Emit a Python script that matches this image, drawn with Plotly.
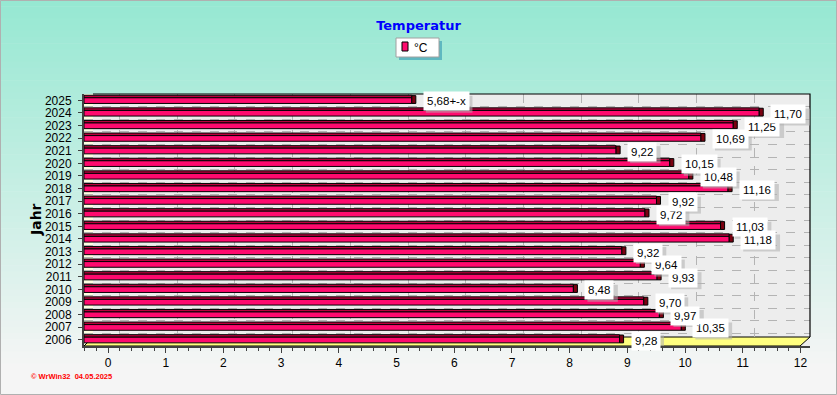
import plotly.graph_objects as go

# ---------------- data ----------------
years = [2006, 2007, 2008, 2009, 2010, 2011, 2012, 2013, 2014, 2015,
         2016, 2017, 2018, 2019, 2020, 2021, 2022, 2023, 2024, 2025]
temps = [9.28, 10.35, 9.97, 9.70, 8.48, 9.93, 9.64, 9.32, 11.18, 11.03,
         9.72, 9.92, 11.16, 10.48, 10.15, 9.22, 10.69, 11.25, 11.70, 5.68]
label_suffix = {2025: "+-x"}
x_ticks = list(range(0, 13))
title_text = "Temperatur"
series_name = "°C"
axis_title = "Jahr"
footer_text = "© WrWin32  04.05.2025"

# ---------------- geometry / style ----------------
W, H = 837, 395
ML, MR, MT, MB = 84, 27, 94, 49
PW, PH = W - ML - MR, H - MT - MB
X_MAX = 12.58                 # bar axis range
LABEL_SHIFT = 0.416           # 3D offset of front tick labels (units)
GRID_SHIFT = 0.616            # 3D offset of back-wall grid (units)
CAP_W = 0.07

PINK = "#FF0A6E"
TOP = "#B8003C"
CAP = "#7A0010"
LABEL_FONT = 11.5

def px_to_paper_x(px):
    return (px - ML) / PW

def px_to_paper_y(py):
    return (H - MB - py) / PH

def text_width(s, size=LABEL_FONT):
    widths = {",": 0.28, "+": 0.58, "-": 0.33, "x": 0.5}
    return sum(widths.get(ch, 0.556) for ch in s) * size

fig = go.Figure()

# top face of the 3D bars
fig.add_trace(go.Bar(
    y=years, x=temps, orientation="h", width=0.2, offset=0.2,
    marker=dict(color=TOP, line=dict(color="black", width=1)),
    showlegend=False, hoverinfo="skip"))
# front face
fig.add_trace(go.Bar(
    y=years, x=temps, orientation="h", width=0.45, offset=-0.25,
    name=series_name,
    marker=dict(color=PINK, line=dict(color="black", width=1)),
    showlegend=False))
# end caps
fig.add_trace(go.Bar(
    y=years, x=[CAP_W] * len(years), base=temps, orientation="h",
    width=0.62, offset=-0.25,
    marker=dict(color=CAP, line=dict(color="black", width=1)),
    showlegend=False, hoverinfo="skip"))
# invisible trace to activate the front (label) axis
fig.add_trace(go.Scatter(x=[x_ticks[0], x_ticks[-1]], y=[years[0], years[0]],
                         xaxis="x2", mode="markers",
                         marker=dict(opacity=0), showlegend=False,
                         hoverinfo="skip"))

# ---------------- background shapes ----------------
shapes = []
top_rgb = (150, 232, 210)
bot_rgb = (245, 245, 245)
N = 60
grad_end = 370
for i in range(N):
    y0 = grad_end * i / N
    y1 = grad_end * (i + 1) / N + 0.6
    t = i / (N - 1)
    c = tuple(round(top_rgb[k] + (bot_rgb[k] - top_rgb[k]) * t) for k in range(3))
    shapes.append(dict(type="rect", xref="paper", yref="paper", layer="below",
                       x0=px_to_paper_x(0), x1=px_to_paper_x(W),
                       y0=px_to_paper_y(y1), y1=px_to_paper_y(y0),
                       fillcolor="rgb(%d,%d,%d)" % c, line=dict(width=0)))
shapes.append(dict(type="rect", xref="paper", yref="paper", layer="below",
                   x0=px_to_paper_x(0), x1=px_to_paper_x(W),
                   y0=px_to_paper_y(H), y1=px_to_paper_y(grad_end),
                   fillcolor="rgb(245,245,245)", line=dict(width=0)))
# back wall
shapes.append(dict(type="rect", xref="paper", yref="paper", layer="below",
                   x0=0, x1=1, y0=0, y1=1,
                   fillcolor="#EDEDED", line=dict(width=0)))
# left wall
shapes.append(dict(type="rect", xref="paper", yref="paper", layer="below",
                   x0=0, x1=px_to_paper_x(93), y0=0, y1=1,
                   fillcolor="#FFFFE0", line=dict(width=0)))
# floor
shapes.append(dict(type="path", xref="paper", yref="paper", layer="below",
                   path="M 0,0 L %f,0 L %f,%f L %f,%f Z" % (
                       px_to_paper_x(800), px_to_paper_x(810),
                       px_to_paper_y(337), px_to_paper_x(93),
                       px_to_paper_y(337)),
                   fillcolor="#FFFF80", line=dict(color="black", width=1)))
# top / right border of the wall
shapes.append(dict(type="path", xref="paper", yref="paper", layer="above",
                   path="M %f,%f L %f,%f L %f,%f" % (
                       px_to_paper_x(93), 1, 1, 1, 1, px_to_paper_y(337)),
                   line=dict(color="black", width=1.2)))
# outer frame
shapes.append(dict(type="rect", xref="paper", yref="paper", layer="above",
                   x0=px_to_paper_x(0.5), x1=px_to_paper_x(W - 0.5),
                   y0=px_to_paper_y(H - 0.5), y1=px_to_paper_y(0.5),
                   line=dict(color="#B0B0B0", width=1)))
# legend box (shadow + white box + swatch)
shapes.append(dict(type="rect", xref="paper", yref="paper", layer="above",
                   x0=px_to_paper_x(399), x1=px_to_paper_x(442),
                   y0=px_to_paper_y(60), y1=px_to_paper_y(41),
                   fillcolor="#5FB8C0", line=dict(width=0)))
shapes.append(dict(type="rect", xref="paper", yref="paper", layer="above",
                   x0=px_to_paper_x(396), x1=px_to_paper_x(439),
                   y0=px_to_paper_y(57), y1=px_to_paper_y(38),
                   fillcolor="white", line=dict(color="#A0A0A0", width=1)))
shapes.append(dict(type="rect", xref="paper", yref="paper", layer="above",
                   x0=px_to_paper_x(402), x1=px_to_paper_x(408),
                   y0=px_to_paper_y(51), y1=px_to_paper_y(42),
                   fillcolor=PINK, line=dict(color="black", width=1)))

# ---------------- value labels ----------------
annotations = []
for yv, v in zip(years, temps):
    txt = ("%.2f" % v).replace(".", ",") + label_suffix.get(yv, "")
    w = text_width(txt) + 8
    # soft shadow behind the label box
    shapes.append(dict(type="rect", xref="x", yref="y", layer="above",
                       xsizemode="pixel", ysizemode="pixel",
                       xanchor=v + CAP_W, yanchor=yv,
                       x0=10, x1=10 + w, y0=-12.5, y1=4.5,
                       fillcolor="rgba(175,175,175,0.55)", line=dict(width=0)))
    annotations.append(dict(x=v + CAP_W, y=yv, xref="x", yref="y", text=txt,
                            xanchor="left", yanchor="middle", showarrow=False,
                            xshift=7, yshift=-1,
                            font=dict(family="Liberation Sans", size=LABEL_FONT,
                                      color="black"),
                            bgcolor="white", borderpad=3))
annotations.append(dict(x=px_to_paper_x(36), y=0.5, xref="paper", yref="paper",
                        xanchor="center", yanchor="middle",
                        text="<b>" + axis_title + "</b>", textangle=-90,
                        showarrow=False,
                        font=dict(family="DejaVu Sans", size=14, color="black")))
annotations.append(dict(x=px_to_paper_x(29), y=px_to_paper_y(376),
                        xref="paper", yref="paper",
                        xanchor="left", yanchor="middle",
                        text="<b>" + footer_text + "</b>", showarrow=False,
                        font=dict(family="Liberation Sans", size=7.5,
                                  color="red")))
# legend label
annotations.append(dict(x=px_to_paper_x(412), y=px_to_paper_y(47.5),
                        xref="paper", yref="paper",
                        xanchor="left", yanchor="middle",
                        text=series_name, showarrow=False,
                        font=dict(family="Liberation Sans", size=12,
                                  color="black")))

fig.update_layout(
    width=W, height=H,
    margin=dict(l=ML, r=MR, t=MT, b=MB, pad=0, autoexpand=False),
    paper_bgcolor="#F5F5F5",
    plot_bgcolor="rgba(0,0,0,0)",
    barmode="overlay",
    showlegend=False,
    title=dict(text="<b>" + title_text + "</b>", x=0.5, xanchor="center",
               xref="container", yref="container", y=1 - 25 / H,
               yanchor="middle",
               font=dict(family="DejaVu Sans", size=13, color="#0000FF")),
    xaxis=dict(range=[0, X_MAX], showticklabels=False, ticks="",
               showgrid=False, zeroline=False, showline=False,
               minor=dict(tickvals=[k + GRID_SHIFT for k in x_ticks],
                          showgrid=True, griddash="dash",
                          gridcolor="#B4B4B4", gridwidth=1, ticks="")),
    xaxis2=dict(range=[-LABEL_SHIFT, X_MAX - LABEL_SHIFT], overlaying="x",
                anchor="y", side="bottom", tickvals=x_ticks,
                ticks="outside", ticklen=5, tickcolor="#404040",
                showline=True, linecolor="#404040", linewidth=2,
                showgrid=False, zeroline=False,
                tickfont=dict(family="Liberation Sans", size=12, color="black"),
                minor=dict(dtick=0.2, ticks="outside", ticklen=3,
                           tickcolor="#404040", showgrid=False)),
    yaxis=dict(range=[years[0] - 0.5, years[-1] + 0.5], tickvals=years,
               ticks="outside", ticklen=4, tickcolor="#404040",
               showline=True, linecolor="#404040", linewidth=2,
               showgrid=False, zeroline=False, ticklabelstandoff=4,
               tickfont=dict(family="Liberation Sans", size=12, color="black"),
               minor=dict(tickvals=[y - 0.5 for y in years], showgrid=True,
                          griddash="dash", gridcolor="#B4B4B4", ticks="")),
    shapes=shapes,
    annotations=annotations,
)

fig.write_html("out.html", config={"displayModeBar": False},
               post_script="document.body.style.margin='0px';"
                           "document.body.style.overflow='hidden';")
